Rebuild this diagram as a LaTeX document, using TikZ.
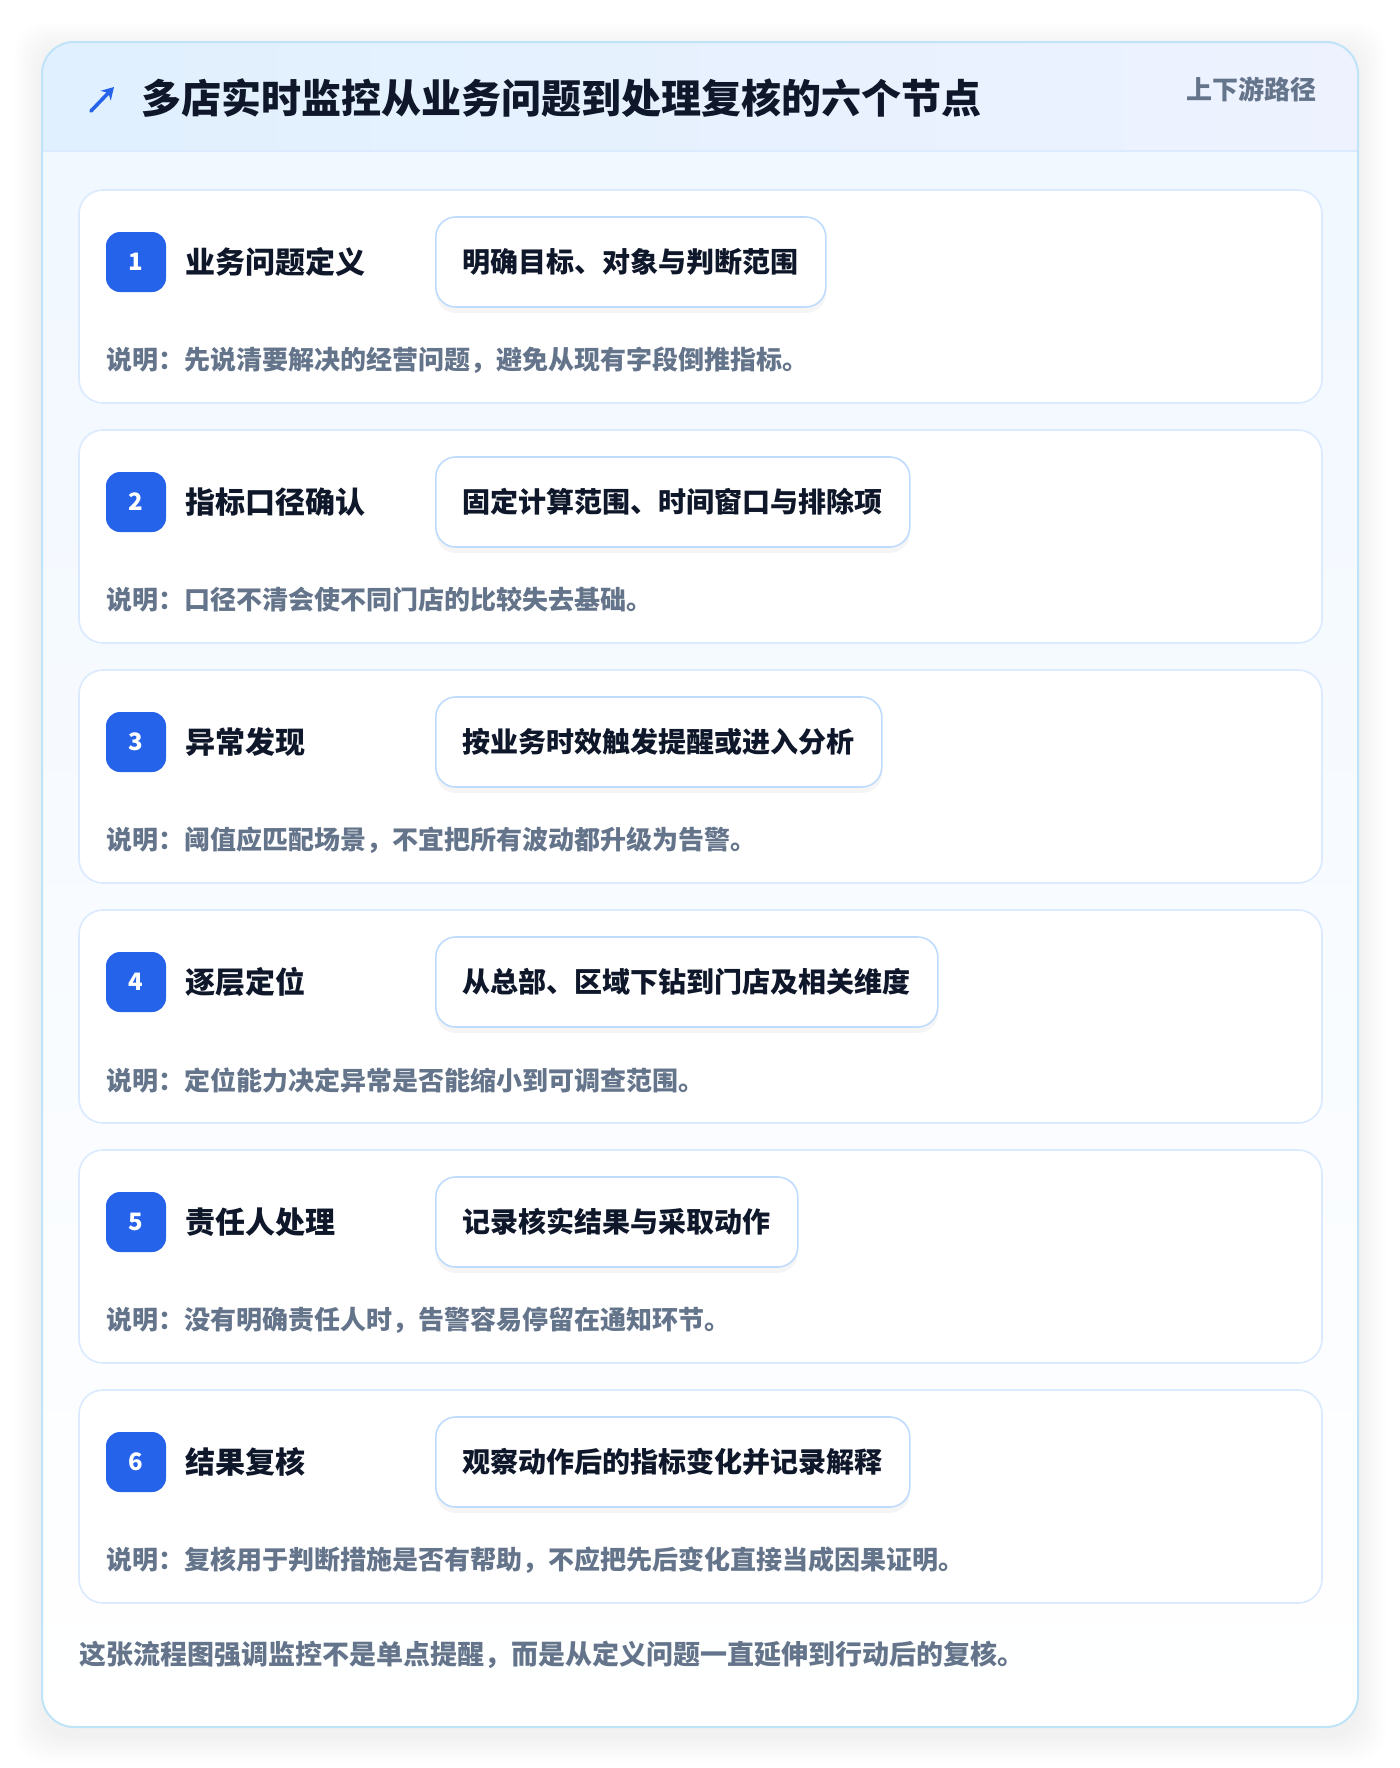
\documentclass[tikz,border=0pt]{standalone}
\usepackage{fontspec}
\setmainfont{Noto Sans CJK SC}
\usetikzlibrary{positioning}
\usetikzlibrary{arrows.meta}
\usetikzlibrary{shadows}
\definecolor{ink}{HTML}{0F172A}
\definecolor{muted}{HTML}{64748B}
\definecolor{brand}{HTML}{2563EB}
\definecolor{frameline}{HTML}{BFE3F7}
\definecolor{cardline}{HTML}{DBEAFE}
\definecolor{pillline}{HTML}{BFDBFE}
\definecolor{headl}{HTML}{E0F0FE}
\definecolor{headr}{HTML}{EEF2FF}
\definecolor{bodytop}{HTML}{F0F7FF}
\tikzset{
    card/.style = {rectangle, rounded corners=12pt, draw=cardline, line width=0.8pt, fill=white, minimum width=621.5pt, minimum height=106.5pt},
    badge/.style = {rectangle, rounded corners=7pt, fill=brand, text=white, minimum size=30pt, inner sep=0pt, font=\bfseries\fontsize{12}{12}\selectfont},
    steptitle/.style = {anchor=west, inner sep=0pt, text=ink, font=\bfseries\fontsize{15}{15}\selectfont},
    pill/.style = {anchor=west, rectangle, rounded corners=10pt, draw=pillline, line width=0.8pt, fill=white, minimum height=45pt, inner xsep=13.5pt, text=ink, font=\bfseries\fontsize{14}{14}\selectfont, drop shadow={shadow xshift=0pt, shadow yshift=-3pt, opacity=0.04, fill=black}},
    note/.style = {anchor=west, inner sep=0pt, text=muted, font=\bfseries\fontsize{13}{13}\selectfont},
    icon/.style = {-{Stealth[length=6pt,width=7pt]}, line width=1.8pt, brand, line cap=round}
}
\begin{document}
\begin{tikzpicture}[x=0.5pt, y=-0.5pt]
\useasboundingbox (0,0) rectangle (1400,1768);
\fill[white] (0,0) rectangle (1400,1768);
% soft shadow round the frame
\foreach \s in {2,4,...,28}
    \fill[black, opacity=0.0045, rounded corners=16pt] ({42-\s},{42-\s+8}) rectangle ({1358+\s},{1727+\s+8});
% frame and header
\shade[top color=bodytop, bottom color=white, rounded corners=16pt] (42,42) rectangle (1358,1727);
\begin{scope}
\clip[rounded corners=16pt] (42,42) rectangle (1358,1727);
\shade[left color=headl, right color=headr] (42,42) rectangle (1358,151);
\draw[cardline, line width=1pt] (42,151) -- (1358,151);
\end{scope}
\draw[frameline, line width=1pt, rounded corners=16pt] (42,42) rectangle (1358,1727);
%
\coordinate (tail) at (91,111);
\coordinate (head) at (114,87);
\draw[icon] (tail) -- (head);
\node[anchor=west, inner sep=0pt, text=ink, font=\bfseries\fontsize{20}{20}\selectfont] at (141,98) (title) {多店实时监控从业务问题到处理复核的六个节点};
\node[anchor=east, inner sep=0pt, text=muted, font=\bfseries\fontsize{13}{13}\selectfont] at (1317,89) (tag) {上下游路径};
%
\node[card] at (700.5, 296.5) (c1) {};
\node[badge] at (136, 262) (b1) {1};
\node[steptitle] at (185, 262) (t1) {业务问题定义};
\node[pill] at (435, 262) (p1) {明确目标、对象与判断范围};
\node[note] at (106, 360) (n1) {说明：先说清要解决的经营问题，避免从现有字段倒推指标。};
%
\node[card] at (700.5, 536.5) (c2) {};
\node[badge] at (136, 502) (b2) {2};
\node[steptitle] at (185, 502) (t2) {指标口径确认};
\node[pill] at (435, 502) (p2) {固定计算范围、时间窗口与排除项};
\node[note] at (106, 600) (n2) {说明：口径不清会使不同门店的比较失去基础。};
%
\node[card] at (700.5, 776.5) (c3) {};
\node[badge] at (136, 742) (b3) {3};
\node[steptitle] at (185, 742) (t3) {异常发现};
\node[pill] at (435, 742) (p3) {按业务时效触发提醒或进入分析};
\node[note] at (106, 840) (n3) {说明：阈值应匹配场景，不宜把所有波动都升级为告警。};
%
\node[card] at (700.5, 1016.5) (c4) {};
\node[badge] at (136, 982) (b4) {4};
\node[steptitle] at (185, 982) (t4) {逐层定位};
\node[pill] at (435, 982) (p4) {从总部、区域下钻到门店及相关维度};
\node[note] at (106, 1080) (n4) {说明：定位能力决定异常是否能缩小到可调查范围。};
%
\node[card] at (700.5, 1256.5) (c5) {};
\node[badge] at (136, 1222) (b5) {5};
\node[steptitle] at (185, 1222) (t5) {责任人处理};
\node[pill] at (435, 1222) (p5) {记录核实结果与采取动作};
\node[note] at (106, 1320) (n5) {说明：没有明确责任人时，告警容易停留在通知环节。};
%
\node[card] at (700.5, 1496.5) (c6) {};
\node[badge] at (136, 1462) (b6) {6};
\node[steptitle] at (185, 1462) (t6) {结果复核};
\node[pill] at (435, 1462) (p6) {观察动作后的指标变化并记录解释};
\node[note] at (106, 1560) (n6) {说明：复核用于判断措施是否有帮助，不应把先后变化直接当成因果证明。};
%
\node[anchor=west, inner sep=0pt, text=muted, font=\bfseries\fontsize{13.5}{13.5}\selectfont] at (79,1655) (foot) {这张流程图强调监控不是单点提醒，而是从定义问题一直延伸到行动后的复核。};
\end{tikzpicture}
\end{document}
